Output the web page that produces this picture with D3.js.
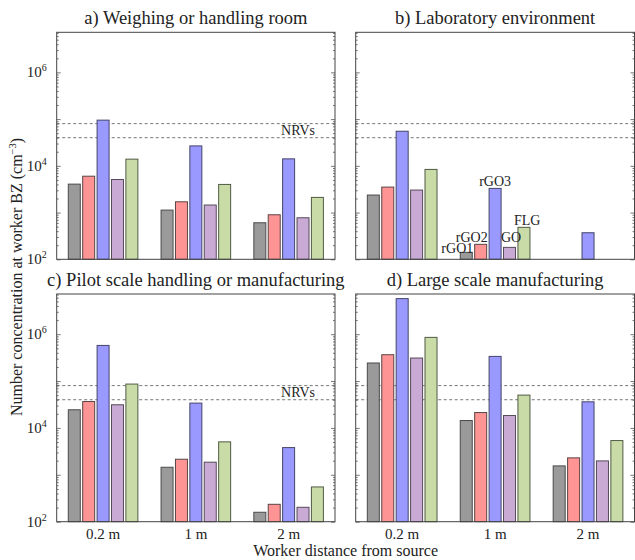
<!DOCTYPE html>
<html>
<head>
<meta charset="utf-8">
<script src="https://cdn.jsdelivr.net/npm/d3@7"></script>
<style>
  body { margin: 0; background: #fff; }
  text { font-family: "Liberation Serif", "DejaVu Serif", serif; fill: #222; }
</style>
</head>
<body>
<svg id="chart" width="635" height="560"></svg>
<script>
// ---------- data ----------
const categories = ["0.2 m", "1 m", "2 m"];
const materials = ["rGO1", "rGO2", "rGO3", "GO", "FLG"];
const panelTitles = [
  "a) Weighing or handling room",
  "b) Laboratory environment",
  "c) Pilot scale handling or manufacturing",
  "d) Large scale manufacturing"
];
// values per category (rows) and material (columns), cm^-3
const valuesA = [
  [4060, 6000, 95000, 5100, 13900],
  [1130, 1700, 26700, 1450, 4000],
  [605, 897, 14100, 774, 2110]
];
const valuesB = [
  [2370, 3510, 55000, 3030, 8380],
  [141, 209, 3290, 180, 483],
  [null, null, 370, null, null]
];
const valuesC = [
  [24400, 36600, 576000, 31200, 86300],
  [1450, 2150, 33900, 1860, 5050],
  [159, 235, 3810, 203, 551]
];
const valuesD = [
  [243000, 365000, 5740000, 310000, 855000],
  [14400, 21300, 336000, 18400, 50200],
  [1550, 2300, 36100, 1980, 5380]
];
const nrvValues = [40000, 80000];
const majorTicks = [1e2, 1e3, 1e4, 1e5, 1e6];
const labelledTicks = [1e2, 1e4, 1e6];
const yDomain = [1e2, 7.2e6];

// ---------- styles ----------
const fills = ["#9a9a9a", "#ff9494", "#9999ff", "#c9aad4", "#c9dca8"];
const strokes = ["#4a4a4a", "#5a4444", "#44446a", "#554a58", "#505a44"];

const panels = [
  { title: panelTitles[0], values: valuesA, x0: 56.7, x1: 335, y0: 32.3, y1: 259.3, yLabels: true, xLabels: false, nrvLabel: true },
  { title: panelTitles[1], values: valuesB, x0: 355.7, x1: 634.5, y0: 32.3, y1: 259.3, yLabels: false, xLabels: false, nrvLabel: false, barLabels: 1 },
  { title: panelTitles[2], values: valuesC, x0: 56.7, x1: 335, y0: 294, y1: 521.7, yLabels: true, xLabels: true, nrvLabel: true },
  { title: panelTitles[3], values: valuesD, x0: 355.7, x1: 634.5, y0: 294, y1: 521.7, yLabels: false, xLabels: true, nrvLabel: false }
];

const svg = d3.select("#chart");

panels.forEach(p => {
  const g = svg.append("g");
  const x = d3.scaleBand().domain(categories).range([p.x0, p.x1]).padding(0);
  const bw = x.bandwidth();
  const xs = d3.scaleBand().domain(materials).range([bw * 0.125, bw * 0.875]).paddingInner(0.167).paddingOuter(0);
  const y = d3.scaleLog().domain(yDomain).range([p.y1, p.y0]);

  // NRV dashed lines
  g.selectAll("line.nrv").data(nrvValues).enter().append("line")
    .attr("x1", p.x0).attr("x2", p.x1)
    .attr("y1", d => y(d)).attr("y2", d => y(d))
    .attr("stroke", "#777").attr("stroke-width", 1).attr("stroke-dasharray", "3,2.5");

  if (p.nrvLabel) {
    g.append("text")
      .attr("x", p.x1 - 20).attr("y", (y(nrvValues[0]) + y(nrvValues[1])) / 2 + 4.5)
      .attr("text-anchor", "end").attr("font-size", 14)
      .text("NRVs");
  }

  // bars
  categories.forEach((c, ci) => {
    p.values[ci].forEach((v, mi) => {
      if (v == null) return;
      g.append("rect")
        .attr("x", x(c) + xs(materials[mi]))
        .attr("width", xs.bandwidth())
        .attr("y", y(v))
        .attr("height", p.y1 - y(v))
        .attr("fill", fills[mi])
        .attr("stroke", strokes[mi])
        .attr("stroke-width", 1);
    });
  });

  // material labels (panel b, 1 m group)
  if (p.barLabels != null) {
    const ci = p.barLabels, c = categories[ci];
    const anchors = ["end", "end", "middle", "start", "start"];
    const dys = [0.5, -2, -2, -5, -2];
    const dxs = [1, 1, 0, -2.5, -4];
    materials.forEach((m, mi) => {
      const v = p.values[ci][mi];
      const bx = x(c) + xs(m);
      const ax = anchors[mi] === "end" ? bx + xs.bandwidth() : anchors[mi] === "middle" ? bx + xs.bandwidth() / 2 : bx;
      g.append("text")
        .attr("x", ax + dxs[mi]).attr("y", y(v) + dys[mi])
        .attr("text-anchor", anchors[mi]).attr("font-size", 14)
        .text(m);
    });
  }

  // minor ticks
  const minor = [];
  for (let e = 2; e <= 6; e++) for (let k = 2; k <= 9; k++) {
    const v = k * Math.pow(10, e);
    if (v <= yDomain[1]) minor.push(v);
  }
  const axL = d3.axisLeft(y).tickValues(minor).tickSize(-2).tickFormat("");
  const axR = d3.axisRight(y).tickValues(minor).tickSize(-2).tickFormat("");
  const axLM = d3.axisLeft(y).tickValues(majorTicks).tickSize(-4).tickFormat("");
  const axRM = d3.axisRight(y).tickValues(majorTicks).tickSize(-4).tickFormat("");
  [[axL, p.x0], [axLM, p.x0], [axR, p.x1], [axRM, p.x1]].forEach(([ax, tx]) => {
    const a = g.append("g").attr("transform", `translate(${tx},0)`).call(ax);
    a.select(".domain").remove();
    a.selectAll("line").attr("stroke", "#555").attr("stroke-width", 0.8);
  });

  // y tick labels
  if (p.yLabels) {
    labelledTicks.forEach(t => {
      const tx = g.append("text")
        .attr("x", p.x0 - 10).attr("y", y(t) + 5)
        .attr("text-anchor", "end").attr("font-size", 15);
      tx.append("tspan").text("10");
      tx.append("tspan").attr("font-size", 10).attr("dy", -6).text(Math.round(Math.log10(t)));
    });
  }

  // x tick labels
  if (p.xLabels) {
    g.selectAll("text.xl").data(categories).enter().append("text")
      .attr("x", d => x(d) + bw / 2).attr("y", p.y1 + 17.5)
      .attr("text-anchor", "middle").attr("font-size", 15)
      .text(d => d);
  }

  // frame
  g.append("rect")
    .attr("x", p.x0).attr("y", p.y0)
    .attr("width", p.x1 - p.x0).attr("height", p.y1 - p.y0)
    .attr("fill", "none").attr("stroke", "#444").attr("stroke-width", 1);

  // title
  g.append("text")
    .attr("x", (p.x0 + p.x1) / 2).attr("y", p.y0 - 8)
    .attr("text-anchor", "middle").attr("font-size", 18.5)
    .text(p.title);
});

// axis titles
const yl = svg.append("text")
  .attr("transform", "translate(22,277) rotate(-90)")
  .attr("text-anchor", "middle").attr("font-size", 16);
yl.append("tspan").text("Number concentration at worker BZ (cm");
yl.append("tspan").attr("font-size", 10.5).attr("dy", -6).text("\u22123");
yl.append("tspan").attr("dy", 6).text(")");

svg.append("text")
  .attr("x", (56.7 + 634.5) / 2).attr("y", 556.3)
  .attr("text-anchor", "middle").attr("font-size", 16)
  .text("Worker distance from source");
</script>
</body>
</html>
